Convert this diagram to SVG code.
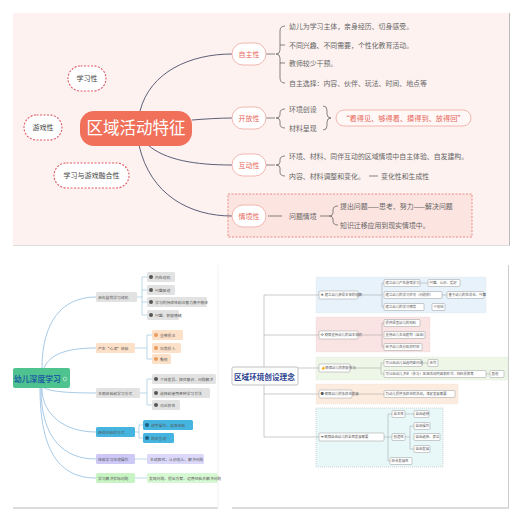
<svg xmlns="http://www.w3.org/2000/svg" width="522" height="522" viewBox="0 0 522 522">
<style>
text{font-family:"Noto Sans CJK SC","Noto Sans",sans-serif}
.item{font-size:6.9px;fill:#666}
.pnode{fill:#fff;stroke:#eea79e;stroke-width:0.8}
.ptxt{font-size:7px;fill:#e8675a;text-anchor:middle}
.dash{fill:#fff;stroke:#e05a66;stroke-width:1.1;stroke-dasharray:2 1.5}
.dtxt{font-size:7px;fill:#444;text-anchor:middle}
.conn{fill:none;stroke:#4a4e69;stroke-width:0.9}
.br{fill:none;stroke:#555;stroke-width:0.7}
.bl{fill:none;stroke:#7fb3dc;stroke-width:0.7}
.bk{fill:none;stroke:#8fbfd8;stroke-width:0.6}
.s{font-size:3.8px;fill:#555}
.rs{font-size:3.4px;fill:#555}
.rn{fill:#fff;stroke:#999;stroke-width:0.5}
.rc{fill:none;stroke:#aaa;stroke-width:0.6}
.rl{fill:none;stroke:#888;stroke-width:0.4}
</style>
<rect width="522" height="522" fill="#fff"/>

<!-- top panel -->
<rect x="13" y="13" width="496" height="232" fill="#fdf2f0"/>
<line x1="509.5" y1="13" x2="509.5" y2="246" stroke="#bbb" stroke-width="1"/>
<line x1="13" y1="245.5" x2="510" y2="245.5" stroke="#ddd" stroke-width="1"/>
<rect x="228" y="194" width="244" height="43" fill="#fce4e1" stroke="#e8736a" stroke-width="0.8" stroke-dasharray="2 1.5"/>

<g id="connectors-top">
<path class="conn" d="M140,111 C150,72 190,54 232,54"/>
<path class="conn" d="M192,120 C205,119 220,118 232,118"/>
<path class="conn" d="M148,145 C165,160 195,165 232,165"/>
<path class="conn" d="M139,145 C150,195 190,216 232,216"/>
<path class="br" d="M266,54 L275,54 M285,26 Q280,26 280,31 L280,50 Q280,54 276,54 Q280,54 280,58 L280,78 Q280,83 285,83 M280,45 L285,45 M280,63 L285,63"/>
<path class="br" d="M266,118 L275,118 M285,109 Q280,109 280,113 L280,115 Q280,118 276,118 Q280,118 280,121 L280,124 Q280,128 285,128"/>
<path class="br" d="M323,106 Q327,106 327,110 L327,114 Q327,118 331,118 Q327,118 327,122 L327,126 Q327,130 323,130"/>
<path class="br" d="M266,165 L275,165 M285,156 Q280,156 280,160 L280,162 Q280,165 276,165 Q280,165 280,168 L280,172 Q280,176 285,176"/>
<path class="br" d="M369,176 L378,176"/>
<path class="br" d="M268,216 L282,216 M320,216 L329,216 M338,206 Q333,206 333,210 L333,213 Q333,216 329,216 Q333,216 333,219 L333,221 Q333,225 338,225"/>
</g>

<g id="center-top">
<rect x="80" y="111" width="112" height="35" rx="14" fill="#f0705a"/>
<text x="136" y="134" font-size="16.5" fill="#fff" text-anchor="middle">区域活动特征</text>
</g>
<g id="n-xuexi"><rect class="dash" x="68" y="66" width="38" height="25" rx="12.5"/><text class="dtxt" x="87" y="81">学习性</text></g>
<g id="n-youxi"><rect class="dash" x="24" y="115" width="38" height="25" rx="12.5"/><text class="dtxt" x="43" y="130">游戏性</text></g>
<g id="n-ronghe"><rect class="dash" x="54" y="163" width="75" height="25" rx="12.5"/><text class="dtxt" x="91.5" y="178">学习与游戏融合性</text></g>

<g id="n-zizhu"><rect class="pnode" x="232" y="43" width="34" height="22" rx="11"/><text class="ptxt" x="249" y="56.5">自主性</text>
<text class="item" x="289" y="29">幼儿为学习主体，亲身经历、切身感受。</text>
<text class="item" x="289" y="48">不同兴趣、不同需要，个性化教育活动。</text>
<text class="item" x="289" y="66">教师较少干预。</text>
<text class="item" x="289" y="86">自主选择：内容、伙伴、玩法、时间、地点等</text>
</g>
<g id="n-kaifang"><rect class="pnode" x="232" y="107" width="34" height="22" rx="11"/><text class="ptxt" x="249" y="120.5">开放性</text>
<text class="item" x="289" y="112">环境创设</text>
<text class="item" x="289" y="131">材料呈现</text>
<rect x="336" y="110" width="135" height="16" rx="8" fill="#fff8f7" stroke="#eea79e" stroke-width="0.8"/>
<text x="403.5" y="120.5" font-size="7.2" fill="#e8675a" text-anchor="middle">“看得见、够得着、摸得到、放得回”</text>
</g>
<g id="n-hudong"><rect class="pnode" x="232" y="154" width="34" height="22" rx="11"/><text class="ptxt" x="249" y="167.5">互动性</text>
<text class="item" x="289" y="159">环境、材料、同伴互动的区域情境中自主体验、自发建构。</text>
<text class="item" x="289" y="179">内容、材料调整和变化。</text>
<text class="item" x="381" y="179">变化性和生成性</text>
</g>
<g id="n-qingjing"><rect class="pnode" x="232" y="205" width="34" height="22" rx="11"/><text class="ptxt" x="249" y="218.5">情境性</text>
<text class="item" x="289" y="218.5">问题情境</text>
<text class="item" x="340" y="208.5">提出问题——思考、努力——解决问题</text>
<text class="item" x="340" y="227.5">知识迁移应用到现实情境中。</text>
</g>

<!-- bottom-left panel -->
<line x1="13" y1="508" x2="218" y2="508" stroke="#bbb" stroke-width="1"/>
<line x1="218" y1="265" x2="218" y2="508" stroke="#eee" stroke-width="0.8"/>
<g id="connectors-bl">
<path class="bl" d="M42,368 C42,322 62,297 96,297"/>
<path class="bl" d="M44,368 C50,353 70,348 96,348"/>
<path class="bl" d="M44,388 C52,392 72,393 96,393"/>
<path class="bl" d="M42,388 C42,415 65,432 96,432"/>
<path class="bl" d="M41,388 C41,440 65,459 96,459"/>
<path class="bl" d="M40,388 C40,455 62,478 96,478"/>
<path class="bk" d="M137,297 L142,297 M147,277 L142,277 L142,315 L147,315 M142,290 L147,290 M142,302 L147,302"/>
<path class="bk" d="M135,348 L147,348 M152,335 L147,335 L147,359 L152,359"/>
<path class="bk" d="M140,393 L147,393 M152,379 L147,379 L147,405 L152,405"/>
<path class="bk" d="M135,432 L139,432 M143,425 L139,425 L139,438 L143,438"/>
<path class="bk" d="M135,459 L147,459"/>
<path class="bk" d="M135,478 L147,478"/>
</g>
<g id="bl-center"><rect x="13" y="368" width="57" height="20" rx="2" fill="#4fc38f"/><text x="14" y="381.5" font-size="7.8" font-weight="bold" fill="#1d5fa3">幼儿深度学习</text><circle cx="65" cy="379" r="1.8" fill="none" stroke="#e6f5ee" stroke-width="0.6"/></g>
<g id="bl-b1"><rect x="96" y="292" width="41" height="10" rx="1.5" fill="#e2e2e2"/><text class="s" x="98" y="298.5">具有自我学习动机</text>
<rect x="147" y="272" width="28" height="10" rx="1.5" fill="#e2e2e2"/><circle cx="151" cy="277" r="2" fill="#555"/><text class="s" x="155" y="278.5">内在动机</text>
<rect x="147" y="285" width="28" height="10" rx="1.5" fill="#e2e2e2"/><circle cx="151" cy="290" r="2" fill="#555"/><text class="s" x="155" y="291.5">兴趣驱动</text>
<rect x="147" y="297" width="60" height="10" rx="1.5" fill="#e2e2e2"/><circle cx="151" cy="302" r="2" fill="#555"/><text class="s" x="155" y="303.5">学习的持续性和注意力集中稳定</text>
<rect x="147" y="310" width="32" height="10" rx="1.5" fill="#e2e2e2"/><circle cx="151" cy="315" r="2" fill="#555"/><text class="s" x="155" y="316.5">兴趣、积极情绪</text>
</g>
<g id="bl-b2"><rect x="96" y="343" width="39" height="10" rx="1.5" fill="#fde0c8"/><text class="s" x="98" y="349.5">产生“心流”体验</text>
<rect x="152" y="330" width="31" height="10" rx="1.5" fill="#fde0c8"/><circle cx="156" cy="335" r="2" fill="#e99a5c"/><text class="s" x="160" y="336.5">全神贯注</text>
<rect x="152" y="343" width="29" height="10" rx="1.5" fill="#fde0c8"/><circle cx="156" cy="348" r="2" fill="#e99a5c"/><text class="s" x="160" y="349.5">忘我投入</text>
<rect x="152" y="354" width="19" height="10" rx="1.5" fill="#fde0c8"/><circle cx="156" cy="359" r="2" fill="#e99a5c"/><text class="s" x="160" y="360.5">愉悦</text>
</g>
<g id="bl-b3"><rect x="96" y="388" width="44" height="10" rx="1.5" fill="#e2e2e2"/><text class="s" x="98" y="394.5">主观体验和学习方式</text>
<rect x="152" y="374" width="64" height="10" rx="1.5" fill="#e2e2e2"/><circle cx="156" cy="379" r="2" fill="#555"/><text class="s" x="160" y="380.5">个体差异、探究意识、问题解决</text>
<rect x="152" y="388" width="58" height="10" rx="1.5" fill="#e2e2e2"/><circle cx="156" cy="393" r="2" fill="#555"/><text class="s" x="160" y="394.5">选择和使用各种学习方法</text>
<rect x="152" y="400" width="28" height="10" rx="1.5" fill="#e2e2e2"/><circle cx="156" cy="405" r="2" fill="#555"/><text class="s" x="160" y="406.5">可迁移性</text>
</g>
<g id="bl-b4"><rect x="96" y="427" width="39" height="10" rx="1.5" fill="#45b5e0"/><text class="s" x="98" y="433.5" fill="#1f5f86">获得经验的方式</text>
<rect x="143" y="420" width="50" height="10" rx="1.5" fill="#45b5e0"/><circle cx="147" cy="425" r="2" fill="#1f5f86"/><text class="s" x="151" y="426.5" fill="#1f5f86">动手操作、亲身体验</text>
<rect x="143" y="433" width="31" height="10" rx="1.5" fill="#45b5e0"/><circle cx="147" cy="438" r="2" fill="#1f5f86"/><text class="s" x="151" y="439.5" fill="#1f5f86">同伴互动</text>
</g>
<g id="bl-b5"><rect x="96" y="454" width="39" height="10" rx="1.5" fill="#cdc8f6"/><text class="s" x="98" y="460.5" fill="#6a5fc0">体验学习主动操作</text>
<rect x="147" y="454" width="57" height="10" rx="1.5" fill="#dcd8fa"/><text class="s" x="150" y="460.5" fill="#7a70c8">主动探究、认识他人、解决问题</text>
</g>
<g id="bl-b6"><rect x="96" y="473" width="39" height="10" rx="1.5" fill="#c8f4c4"/><text class="s" x="98" y="479.5" fill="#4a8a4a">学习解决实际问题</text>
<rect x="147" y="473" width="71" height="10" rx="1.5" fill="#d6f8d2"/><text class="s" x="149" y="479.5" fill="#4a8a4a">发现问题、提出方案、运用经验去解决问题</text>
</g>

<!-- bottom-right panel -->
<line x1="232" y1="508" x2="509" y2="508" stroke="#bbb" stroke-width="1"/>
<line x1="508.5" y1="265" x2="508.5" y2="508" stroke="#ccc" stroke-width="1"/>
<rect x="316" y="277" width="170" height="36" fill="#e8f2fb" stroke="#d0d8e0" stroke-width="0.4" stroke-dasharray="1 1"/>
<rect x="316" y="317" width="114" height="35" fill="#f9e3e3" stroke="#e0c8c8" stroke-width="0.4" stroke-dasharray="1 1"/>
<rect x="316" y="357" width="192" height="23" fill="#eef6e8" stroke="#d0dcc8" stroke-width="0.4" stroke-dasharray="1 1"/>
<rect x="316" y="384" width="142" height="20" fill="#fcecdf" stroke="#e6d2c0" stroke-width="0.4" stroke-dasharray="1 1"/>
<rect x="316" y="408" width="127" height="59" fill="#e8f7f8" stroke="#999" stroke-width="0.4" stroke-dasharray="1 1"/>
<g id="connectors-br">
<path class="rc" d="M298,376 L264,376 M264,295 L264,437 M264,295 L319,295 M264,335 L319,335 M264,368 L319,368 M264,394 L319,394 M264,437 L319,437"/>
<path class="rl" d="M358,295 L382,295 M384,283 L382,283 L382,307 L384,307 M420,283 L428,283 M442,295 L447,295"/>
<path class="rl" d="M358,335 L382,335 M384,323 L382,323 L382,347 L384,347"/>
<path class="rl" d="M350,368 L381,368 M384,363 L381,363 L381,374 L384,374 M422,363 L428,363 M486,374 L490,374"/>
<path class="rl" d="M352,394 L384,394"/>
<path class="rl" d="M384,437 L388,437 M392,414 L388,414 L388,461 L390,461 M388,437 L392,437 M405,414 L414,414 M405,437 L410,437 M414,426 L410,426 L410,449 L414,449"/>
</g>
<g id="br-center"><rect x="232" y="367" width="66" height="18" rx="1.5" fill="#fff" stroke="#999" stroke-width="0.6"/><text x="234" y="379.5" font-size="7.6" font-weight="bold" fill="#2b3f8f">区域环境创设理念</text></g>
<g id="br-1"><rect class="rn" x="319" y="291" width="39" height="8" rx="1"/><text class="rs" x="320.5" y="296.2">★ 建立幼儿获得主体的理解</text>
<rect class="rn" x="384" y="279.5" width="36" height="7" rx="1"/><text class="rs" x="385.5" y="284.2">建立幼儿产生游戏学习</text>
<rect class="rn" x="428" y="279.5" width="32" height="7" rx="1"/><text class="rs" x="429.5" y="284.2">兴趣、认识、爱好</text>
<rect class="rn" x="384" y="291.5" width="58" height="7" rx="1"/><text class="rs" x="385.5" y="296.2">建立幼儿的学习状况（问题的）</text>
<rect class="rn" x="447" y="291.5" width="37" height="7" rx="1"/><text class="rs" x="448.5" y="296.2">基于幼儿的生活化、兴趣</text>
<rect class="rn" x="384" y="303.5" width="40" height="7" rx="1"/><text class="rs" x="385.5" y="308.2">建立幼儿的学习情境</text>
<rect class="rn" x="432" y="303.5" width="13" height="7" rx="1"/><text class="rs" x="433.5" y="308.2">个别化</text>
</g>
<g id="br-2"><rect class="rn" x="319" y="331" width="39" height="8" rx="1"/><text class="rs" x="320.5" y="336.2">❖ 确保支持幼儿的自主探究</text>
<rect class="rn" x="384" y="319.5" width="36" height="7" rx="1"/><text class="rs" x="385.5" y="324.2">提供适宜幼儿的材料</text>
<rect class="rn" x="384" y="331.5" width="41" height="7" rx="1"/><text class="rs" x="385.5" y="336.2">支持幼儿主动建构（自由）</text>
<rect class="rn" x="384" y="343.5" width="38" height="7" rx="1"/><text class="rs" x="385.5" y="348.2">给予幼儿充分探究时间</text>
</g>
<g id="br-3"><rect class="rn" x="319" y="364" width="31" height="8" rx="1"/><text class="rs" x="320.5" y="369.2">👍 确保幼儿的积极参与</text>
<rect class="rn" x="384" y="359.5" width="38" height="7" rx="1"/><text class="rs" x="385.5" y="364.2">可以由幼儿自选内容问题</text>
<rect class="rn" x="428" y="359.5" width="10" height="7" rx="1"/><text class="rs" x="429.5" y="364.2">合作</text>
<rect class="rn" x="384" y="370.5" width="102" height="7" rx="1"/><text class="rs" x="385.5" y="375.2">可以由幼儿决定（参与）区域活动内容和形式、材料投放等</text>
<rect class="rn" x="490" y="370.5" width="14" height="7" rx="1"/><text class="rs" x="491.5" y="375.2">其他</text>
</g>
<g id="br-4"><rect class="rn" x="319" y="390" width="33" height="8" rx="1"/><text class="rs" x="320.5" y="395.2">● 确保幼儿的多样化发展</text>
<rect class="rn" x="384" y="390.5" width="71" height="7" rx="1"/><text class="rs" x="385.5" y="395.2">为幼儿提供多样化的活动，满足发展需要</text>
</g>
<g id="br-5"><rect class="rn" x="319" y="433" width="65" height="8" rx="1"/><text class="rs" x="320.5" y="438.2">❤ 确保自由幼儿的全面发展需要</text>
<rect class="rn" x="392" y="410.5" width="13" height="7" rx="1"/><text class="rs" x="393.5" y="415.2">自主性</text>
<rect class="rn" x="414" y="410.5" width="15" height="7" rx="1"/><text class="rs" x="415.5" y="415.2">自由选择</text>
<rect class="rn" x="392" y="433.5" width="13" height="7" rx="1"/><text class="rs" x="393.5" y="438.2">创造性</text>
<rect class="rn" x="414" y="422.5" width="16" height="7" rx="1"/><text class="rs" x="415.5" y="427.2">自由操作</text>
<rect class="rn" x="414" y="433.5" width="26" height="7" rx="1"/><text class="rs" x="415.5" y="438.2">自由选择、表达</text>
<rect class="rn" x="414" y="445.5" width="16" height="7" rx="1"/><text class="rs" x="415.5" y="450.2">自由发展</text>
<rect class="rn" x="390" y="457.5" width="22" height="7" rx="1"/><text class="rs" x="391.5" y="462.2">综合发展性</text>
</g>
</svg>
